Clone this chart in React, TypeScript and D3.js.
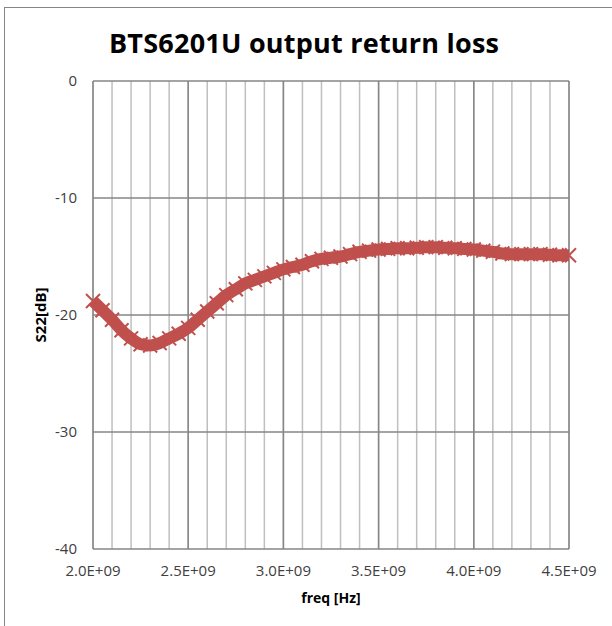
import React, { useEffect, useRef } from "react";
import * as d3 from "d3";

// frequency in GHz steps of 0.05, S22
const freqs = [
  2.0, 2.05, 2.1, 2.15, 2.2, 2.25, 2.3, 2.35, 2.4, 2.45, 2.5, 2.55, 2.6, 2.65,
  2.7, 2.75, 2.8, 2.85, 2.9, 2.95, 3.0, 3.05, 3.1, 3.15, 3.2, 3.25, 3.3, 3.35,
  3.4, 3.45, 3.5, 3.55, 3.6, 3.65, 3.7, 3.75, 3.8, 3.85, 3.9, 3.95, 4.0, 4.05,
  4.1, 4.15, 4.2, 4.25, 4.3, 4.35, 4.4, 4.45, 4.5,
];
const s22 = [
  -18.8, -19.6, -20.4, -21.3, -22.0, -22.5, -22.6, -22.4, -22.0, -21.6, -21.1,
  -20.4, -19.7, -19.0, -18.3, -17.8, -17.3, -17.0, -16.7, -16.4, -16.1, -15.9,
  -15.7, -15.4, -15.2, -15.1, -15.0, -14.8, -14.6, -14.5, -14.4, -14.35, -14.3,
  -14.3, -14.25, -14.2, -14.2, -14.25, -14.3, -14.35, -14.4, -14.5, -14.6,
  -14.75, -14.8, -14.8, -14.8, -14.8, -14.85, -14.9, -14.9,
];
const xTicks = [2.0, 2.5, 3.0, 3.5, 4.0, 4.5];
const yTicks = [0, -10, -20, -30, -40];

const W = 612;
const H = 626;
const color = "#C0504D";

export default function App() {
  const ref = useRef<SVGSVGElement>(null);

  useEffect(() => {
    const svg = d3.select(ref.current);
    svg.selectAll("*").remove();

    const x = d3.scaleLinear().domain([2.0, 4.5]).range([93, 569]);
    const y = d3.scaleLinear().domain([0, -40]).range([81, 549]);
    const font = "'Open Sans', 'Noto Sans', sans-serif";

    // outer chart border
    svg.append("rect")
      .attr("x", 4.5).attr("y", 7.5)
      .attr("width", W).attr("height", H)
      .attr("fill", "white").attr("stroke", "#868686");

    svg.append("text")
      .attr("x", 304).attr("y", 53)
      .attr("text-anchor", "middle")
      .style("font", `bold 27px ${font}`)
      .attr("textLength", 390)
      .text("BTS6201U output return loss");

    const minor = d3.range(2.0, 4.5001, 0.1);
    svg.append("g").selectAll("line").data(minor).join("line")
      .attr("x1", (d) => x(d)).attr("x2", (d) => x(d))
      .attr("y1", y(0)).attr("y2", y(-40))
      .attr("stroke", "#BFBFBF").attr("stroke-width", 1.5);

    svg.append("g").selectAll("line").data(xTicks).join("line")
      .attr("x1", (d) => x(d)).attr("x2", (d) => x(d))
      .attr("y1", y(0)).attr("y2", y(-40))
      .attr("stroke", "#868686").attr("stroke-width", 1.5);

    svg.append("g").selectAll("line").data(yTicks).join("line")
      .attr("x1", x(2.0)).attr("x2", x(4.5))
      .attr("y1", (d) => y(d)).attr("y2", (d) => y(d))
      .attr("stroke", "#868686").attr("stroke-width", 1.5);

    // y labels
    svg.append("g").selectAll("text").data(yTicks).join("text")
      .attr("x", 77).attr("y", (d) => y(d) + 5)
      .attr("text-anchor", "end")
      .style("font", `15px ${font}`).attr("fill", "#404040")
      .text((d) => String(d));

    // x labels
    svg.append("g").selectAll("text").data(xTicks).join("text")
      .attr("x", (d) => x(d)).attr("y", 576)
      .attr("text-anchor", "middle")
      .style("font", `15px ${font}`).attr("fill", "#404040")
      .text((d) => d.toFixed(1) + "E+09");

    svg.append("text")
      .attr("x", 331).attr("y", 603)
      .attr("text-anchor", "middle")
      .style("font", `bold 14px ${font}`)
      .text("freq [Hz]");

    svg.append("text")
      .attr("transform", `translate(46,315) rotate(-90)`)
      .attr("text-anchor", "middle")
      .style("font", `bold 15px ${font}`)
      .text("S22[dB]");

    const pts = freqs.map((f, i) => [f, s22[i]] as [number, number]);

    // dense marker band
    const line = d3.line<[number, number]>()
      .x((d) => x(d[0])).y((d) => y(d[1]))
      .curve(d3.curveMonotoneX);
    svg.append("path")
      .attr("d", line(pts))
      .attr("fill", "none").attr("stroke", color)
      .attr("stroke-width", 12);

    const r = 7;
    svg.append("g").selectAll("path").data(pts).join("path")
      .attr("transform", (d) => `translate(${x(d[0])},${y(d[1])})`)
      .attr("d", `M${-r},${-r}L${r},${r}M${-r},${r}L${r},${-r}`)
      .attr("stroke", color).attr("stroke-width", 2).attr("fill", "none");
  }, []);

  return (
    <svg
      ref={ref}
      width={W}
      height={H}
      style={{ position: "absolute", left: 0, top: 0, background: "white" }}
    />
  );
}
